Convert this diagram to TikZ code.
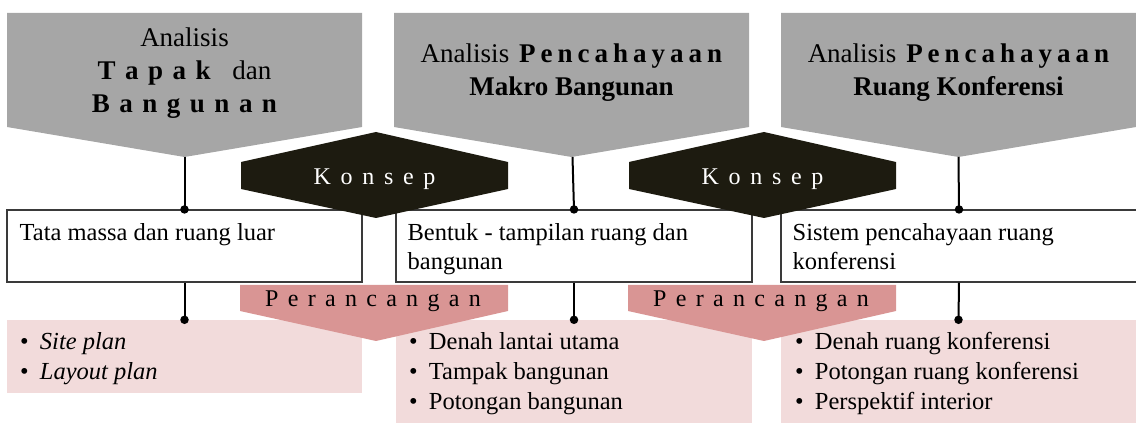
\documentclass[tikz,border=0pt]{standalone}
\usepackage{fontspec}
\setmainfont{Liberation Serif}
\usetikzlibrary{calc}
\definecolor{headgray}{HTML}{A6A6A6}
\definecolor{konsepfill}{HTML}{1D1B10}
\definecolor{rancangfill}{HTML}{D99594}
\definecolor{hasilfill}{HTML}{F2DBDB}
\definecolor{boxline}{HTML}{3A3A3A}
% letter-spaced (tracked) word: \trk{gap}{word}
\makeatletter
\newcommand\trk[2]{\def\trk@gap{\hspace{#1}}\trk@go#2\@nil}
\def\trk@go#1#2\@nil{#1\trk@gap\ifx\relax#2\relax\else\trk@go#2\@nil\fi}
\makeatother
\begin{document}
\begin{tikzpicture}[x=1pt,y=-1pt,
  headshape/.style={fill=headgray},
  titletext/.style={font=\fontsize{27}{33}\selectfont, inner sep=0pt, anchor=base},
  wbox/.style={draw=boxline, line width=1.1pt, fill=white, inner sep=0pt, minimum height=72pt},
  btext/.style={font=\fontsize{24.5}{29}\selectfont, inner sep=0pt, anchor=base west},
  lbox/.style={fill=hasilfill, inner sep=0pt},
  ltext/.style={font=\fontsize{24.5}{30}\selectfont, inner sep=0pt, anchor=base west},
  conn/.style={line width=2pt, black},
  dot/.style={circle, fill=black, inner sep=0pt, minimum size=8.5pt},
  konsepshape/.style={fill=konsepfill},
  konseptext/.style={font=\fontsize{24}{28}\selectfont, text=white, inner sep=0pt, anchor=base},
  rancangshape/.style={fill=rancangfill},
  rancangtext/.style={font=\fontsize{24}{28}\selectfont, text=black, inner sep=0pt, anchor=base}]
\useasboundingbox (0,0) rectangle (1136,427);

% ---- analysis headers (pentagon arrows) ----
\fill[headshape] (7,13) -- (362,13) -- (362,127) -- (184.5,157) -- (7,127) -- cycle;
\coordinate (h1tip) at (184.5,157);
\fill[headshape] (394,13) -- (749,13) -- (749,127) -- (571.5,157) -- (394,127) -- cycle;
\coordinate (h2tip) at (572.5,157);
\fill[headshape] (781,13) -- (1136,13) -- (1136,127) -- (958.5,157) -- (781,127) -- cycle;
\coordinate (h3tip) at (958.5,157);

\node[titletext] (t1) at (184.5,47) {\begin{tabular}[t]{@{}c@{}}Analisis\\
  \textbf{\trk{9.5pt}{Tapak}}\hspace{12pt}dan\\
  \textbf{\trk{9.5pt}{Bangunan}}\end{tabular}};
\node[titletext] (t2) at (571.5,63) {\begin{tabular}[t]{@{}c@{}}Analisis\hspace{10pt}\textbf{\trk{5pt}{Pencahayaan}}\\
  \textbf{Makro Bangunan}\end{tabular}};
\node[titletext] (t3) at (958.5,63) {\begin{tabular}[t]{@{}c@{}}Analisis\hspace{10pt}\textbf{\trk{5pt}{Pencahayaan}}\\
  \textbf{Ruang Konferensi}\end{tabular}};

% ---- concept boxes ----
\node[wbox, minimum width=355pt] (b1) at (184.5,246) {};
\node[wbox, minimum width=356pt] (b2) at (574,246) {};
\node[wbox, minimum width=356pt] (b3) at (959,246) {};
\node[btext] (b1t) at ($(b1.north west)+(13,31)$) {\begin{tabular}[t]{@{}l@{}}Tata massa dan ruang luar\end{tabular}};
\node[btext] (b2t) at ($(b2.north west)+(12,31)$) {\begin{tabular}[t]{@{}l@{}}Bentuk - tampilan ruang dan\\ bangunan\end{tabular}};
\node[btext] (b3t) at ($(b3.north west)+(12,31)$) {\begin{tabular}[t]{@{}l@{}}Sistem pencahayaan ruang\\ konferensi\end{tabular}};

% ---- design output boxes ----
\node[lbox, minimum width=355pt, minimum height=73pt] (l1) at (184.5,356.5) {};
\node[lbox, minimum width=356pt, minimum height=103pt] (l2) at (574,371.5) {};
\node[lbox, minimum width=355pt, minimum height=103pt] (l3) at (958.5,371.5) {};
\node[ltext] (l1t) at ($(l1.north west)+(13,30)$) {\begin{tabular}[t]{@{}l@{\hspace{11.4pt}}l@{}}
  \textbullet & \textit{Site plan}\\ \textbullet & \textit{Layout plan}\end{tabular}};
\node[ltext] (l2t) at ($(l2.north west)+(13,30)$) {\begin{tabular}[t]{@{}l@{\hspace{11.4pt}}l@{}}
  \textbullet & Denah lantai utama\\ \textbullet & Tampak bangunan\\ \textbullet & Potongan bangunan\end{tabular}};
\node[ltext] (l3t) at ($(l3.north west)+(14,30)$) {\begin{tabular}[t]{@{}l@{\hspace{11.4pt}}l@{}}
  \textbullet & Denah ruang konferensi\\ \textbullet & Potongan ruang konferensi\\ \textbullet & Perspektif interior\end{tabular}};

% ---- connectors ----
\draw[conn] (h1tip) -- (b1.north);
\draw[conn] (h2tip) -- (b2.north);
\draw[conn] (h3tip) -- (b3.north);
\draw[conn] (b1.south) -- (l1.north);
\draw[conn] (b2.south) -- (l2.north);
\draw[conn] (b3.south) -- (l3.north);
\node[dot] (d1) at (b1.north) {};
\node[dot] (d2) at (b2.north) {};
\node[dot] (d3) at (b3.north) {};
\node[dot] (e1) at (l1.north) {};
\node[dot] (e2) at (l2.north) {};
\node[dot] (e3) at (l3.north) {};

% ---- "Konsep" and "Perancangan" labels ----
\foreach \dx/\n in {0/1, 388/2}{
  \begin{scope}[xshift=\dx pt]
    \fill[konsepshape] (241,162) -- (376,132) -- (508,162) -- (508,189) -- (376,218) -- (241,189) -- cycle;
    \node[konseptext] (k\n) at (374.5,185) {\trk{9.7pt}{Konsep}};
    \fill[rancangshape] (240,285) -- (508,285) -- (508,311) -- (376,341) -- (240,311) -- cycle;
    \node[rancangtext] (r\n) at (373,306.5) {\trk{9.3pt}{Perancangan}};
  \end{scope}
}
\end{tikzpicture}
\end{document}
